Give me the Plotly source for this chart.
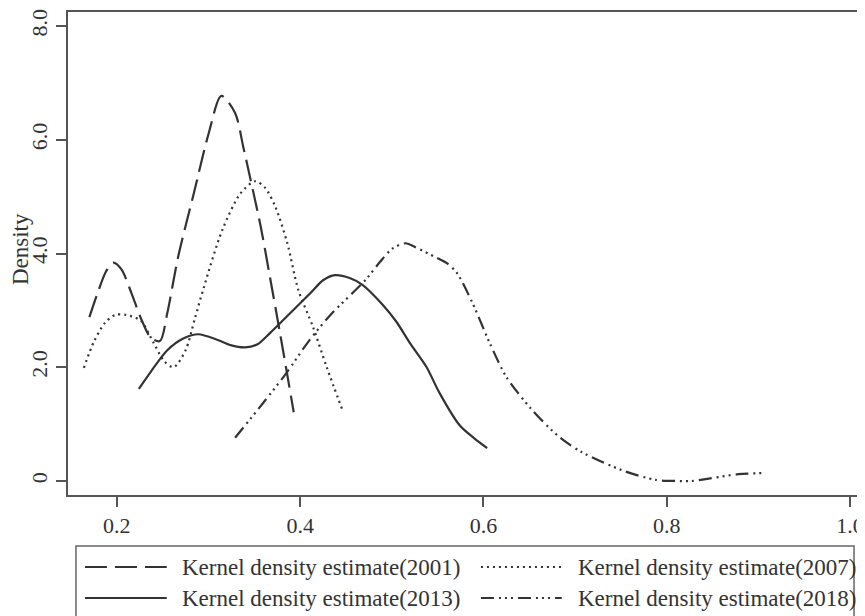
import plotly.graph_objects as go

# ---- data ----
x2001 = [0.170, 0.180, 0.188, 0.196, 0.205, 0.216, 0.226, 0.237, 0.247, 0.255, 0.267, 0.284, 0.300, 0.314, 0.329, 0.338, 0.346, 0.357, 0.367, 0.378, 0.393]
y2001 = [2.88, 3.35, 3.68, 3.84, 3.72, 3.30, 2.87, 2.52, 2.46, 2.95, 3.95, 5.06, 6.10, 6.77, 6.47, 5.87, 5.29, 4.47, 3.59, 2.60, 1.21]

x2007 = [0.164, 0.175, 0.187, 0.198, 0.210, 0.226, 0.240, 0.252, 0.262, 0.275, 0.285, 0.295, 0.315, 0.335, 0.351, 0.362, 0.373, 0.386, 0.398, 0.414, 0.429, 0.446]
y2007 = [1.99, 2.45, 2.78, 2.92, 2.92, 2.82, 2.43, 2.10, 2.00, 2.30, 2.85, 3.41, 4.41, 5.06, 5.27, 5.15, 4.82, 4.18, 3.36, 2.71, 2.00, 1.25]

x2013 = [0.224, 0.237, 0.255, 0.273, 0.289, 0.310, 0.324, 0.340, 0.353, 0.367, 0.389, 0.411, 0.425, 0.438, 0.454, 0.468, 0.490, 0.505, 0.520, 0.538, 0.552, 0.574, 0.590, 0.604]
y2013 = [1.62, 1.92, 2.30, 2.51, 2.58, 2.48, 2.39, 2.35, 2.40, 2.60, 2.95, 3.30, 3.53, 3.62, 3.57, 3.45, 3.10, 2.80, 2.42, 2.00, 1.55, 0.98, 0.75, 0.58]

x2018 = [0.329, 0.360, 0.386, 0.408, 0.433, 0.471, 0.487, 0.500, 0.515, 0.527, 0.547, 0.560, 0.571, 0.588, 0.607, 0.625, 0.653, 0.683, 0.707, 0.751, 0.788, 0.813, 0.827, 0.849, 0.878, 0.905]
y2018 = [0.76, 1.38, 1.92, 2.43, 2.92, 3.53, 3.85, 4.08, 4.18, 4.10, 3.94, 3.83, 3.66, 3.13, 2.42, 1.83, 1.25, 0.77, 0.51, 0.19, 0.02, 0.00, 0.00, 0.05, 0.12, 0.14]

series_names = ["Kernel density estimate(2001)", "Kernel density estimate(2007)",
                "Kernel density estimate(2013)", "Kernel density estimate(2018)"]
x_tickvals = [0.2, 0.4, 0.6, 0.8, 1.0]
x_ticktext = ["0.2", "0.4", "0.6", "0.8", "1.0"]
y_tickvals = [0, 2, 4, 6, 8]
y_ticktext = ["0", "2.0", "4.0", "6.0", "8.0"]

# ---- styles ----
FONT = "Liberation Serif"
LC = "#333333"
dashes = ["22px,8px", "2px,4px", "solid", "13px,5px,2px,4px,2px,4px,2px,5px"]
xs = [x2001, x2007, x2013, x2018]
ys = [y2001, y2007, y2013, y2018]

# page has an 8px body margin; figure sized/margined to compensate
OFF = 8
W, H = 865 - OFF, 616 - OFF
PLOT_L, PLOT_R, PLOT_T, PLOT_B = 68, 864, 12, 495   # page pixel frame
ML = PLOT_L - OFF
MT = PLOT_T - OFF
MR = (W + OFF) - PLOT_R
MB = (H + OFF) - PLOT_B
PW, PH = PLOT_R - PLOT_L, PLOT_B - PLOT_T


def px_x(px):
    return (px - PLOT_L) / PW


def px_y(py):
    return (PLOT_B - py) / PH


fig = go.Figure()
for xv, yv, d, n in zip(xs, ys, dashes, series_names):
    fig.add_trace(go.Scatter(x=xv, y=yv, mode="lines", name=n, showlegend=False,
                             line=dict(color=LC, width=2.2, dash=d, shape="spline", smoothing=0.8)))

fig.update_layout(
    width=W, height=H,
    margin=dict(l=ML, r=MR, t=MT, b=MB),
    paper_bgcolor="white", plot_bgcolor="white",
    font=dict(family=FONT, size=22, color="#333333"),
    showlegend=False,
)
fig.update_xaxes(range=[0.1467, 1.013], tickvals=x_tickvals, ticktext=x_ticktext,
                 ticks="outside", ticklen=10, tickwidth=1.5, tickcolor="#555555",
                 showline=True, linecolor="#555555", linewidth=1.5, mirror=True,
                 showgrid=False, zeroline=False, tickfont=dict(size=22))
fig.update_yaxes(range=[-0.246, 8.246], tickvals=y_tickvals, ticktext=y_ticktext,
                 ticks="outside", ticklen=10, tickwidth=1.5, tickcolor="#555555",
                 showline=True, linecolor="#555555", linewidth=1.5, mirror=True,
                 showgrid=False, zeroline=False, tickangle=-90, tickfont=dict(size=22))

# y-axis title
fig.add_annotation(text="Density", xref="paper", yref="paper", x=px_x(20), y=px_y(249),
                   textangle=-90, showarrow=False, xanchor="center", yanchor="middle",
                   font=dict(family=FONT, size=23, color="#333333"))

# legend box
fig.add_shape(type="rect", xref="paper", yref="paper",
              x0=px_x(76), x1=px_x(856), y0=px_y(546), y1=px_y(640),
              line=dict(color="#666666", width=1.5), fillcolor="rgba(0,0,0,0)")

legend_pos = [(85, 167, 180, 567), (482, 563, 577, 567), (85, 167, 180, 598), (482, 563, 577, 598)]
for (sx0, sx1, tx, ty), d, n in zip(legend_pos, dashes, series_names):
    fig.add_shape(type="line", xref="paper", yref="paper",
                  x0=px_x(sx0), x1=px_x(sx1), y0=px_y(ty), y1=px_y(ty),
                  line=dict(color=LC, width=2.2, dash=d))
    fig.add_annotation(text=n, xref="paper", yref="paper", x=px_x(tx), y=px_y(ty),
                       showarrow=False, xanchor="left", yanchor="middle",
                       font=dict(family=FONT, size=23, color="#333333"))

fig.write_html("out.html")
